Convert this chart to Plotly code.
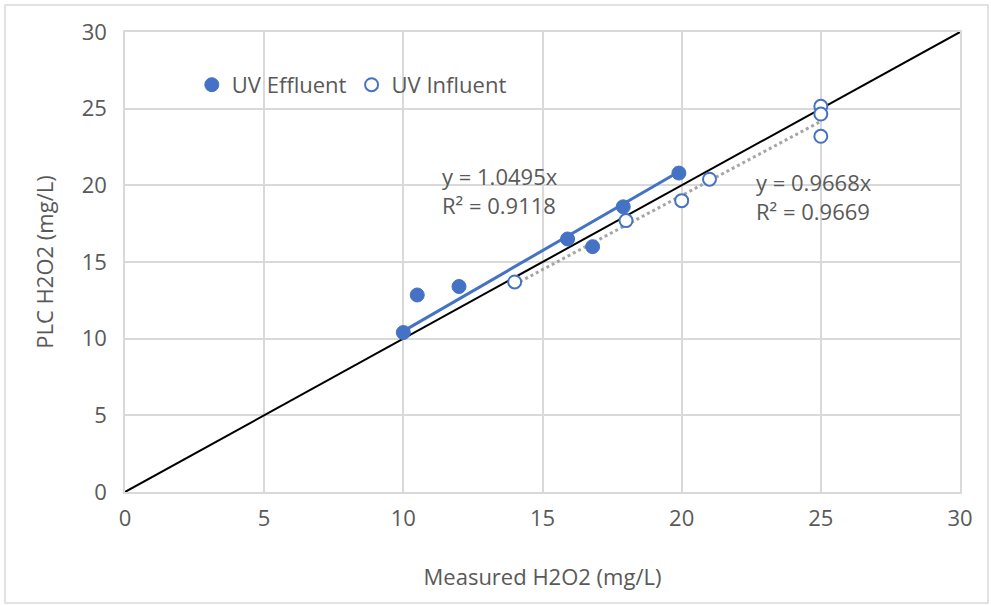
import plotly.graph_objects as go

eff_x = [10, 10.5, 12, 15.9, 16.8, 17.9, 19.9]
eff_y = [10.4, 12.85, 13.4, 16.5, 16.0, 18.6, 20.8]
inf_x = [14, 18, 20, 21, 25, 25, 25]
inf_y = [13.7, 17.7, 19.0, 20.4, 25.15, 24.65, 23.2]
eff_slope = 1.0495
inf_slope = 0.9668
eff_label = "y = 1.0495x<br>R² = 0.9118"
inf_label = "y = 0.9668x<br>R² = 0.9669"
ticks = [0, 5, 10, 15, 20, 25, 30]

blue = "#4472C4"
txt = "#595959"
font = "Open Sans"
fs = 22

fig = go.Figure()
fig.add_trace(go.Scatter(x=[0, 30], y=[0, 30], mode="lines",
                         line=dict(color="black", width=2), showlegend=False, hoverinfo="skip"))
ex = [min(eff_x), max(eff_x)]
fig.add_trace(go.Scatter(x=ex, y=[v * eff_slope for v in ex], mode="lines",
                         line=dict(color=blue, width=3), showlegend=False))
ix = [min(inf_x), max(inf_x)]
fig.add_trace(go.Scatter(x=ix, y=[v * inf_slope for v in ix], mode="lines",
                         line=dict(color="#A5A5A5", width=3, dash="dot"), showlegend=False))
fig.add_trace(go.Scatter(x=eff_x, y=eff_y, mode="markers", name="UV Effluent",
                         marker=dict(color=blue, size=14, line=dict(color=blue, width=1))))
fig.add_trace(go.Scatter(x=inf_x, y=inf_y, mode="markers", name="UV Influent",
                         marker=dict(color="white", size=13, line=dict(color=blue, width=2))))

fig.add_annotation(x=11.3, y=21.7, text=eff_label, showarrow=False, xanchor="left", yanchor="top",
                   align="left", font=dict(size=fs, color=txt, family=font))
fig.add_annotation(x=22.6, y=21.35, text=inf_label, showarrow=False, xanchor="left", yanchor="top",
                   align="left", font=dict(size=fs, color=txt, family=font))

fig.add_shape(type="rect", xref="paper", yref="paper", x0=-0.1437, x1=1.0335, y0=-0.2413, y1=1.0587,
              line=dict(color="#D9D9D9", width=1.5), fillcolor="rgba(0,0,0,0)", layer="below")

axis_common = dict(range=[0, 30], tickvals=ticks, showgrid=True, gridcolor="#D9D9D9", gridwidth=1.5,
                   zeroline=False, showline=True, linecolor="#D9D9D9", linewidth=1.5, mirror=True,
                   tickfont=dict(size=fs, color=txt, family=font), ticks="")
fig.update_xaxes(**axis_common, ticklabelstandoff=6,
                 title=dict(text="Measured H2O2 (mg/L)", font=dict(size=fs, color=txt, family=font), standoff=38))
fig.update_yaxes(**axis_common, ticklabelstandoff=12,
                 title=dict(text="PLC H2O2 (mg/L)", font=dict(size=fs, color=txt, family=font), standoff=22))

fig.update_layout(width=991, height=605, margin=dict(l=125, r=31, t=32, b=113),
                  paper_bgcolor="white", plot_bgcolor="white",
                  legend=dict(orientation="h", x=0.08, y=0.885, xanchor="left", yanchor="middle",
                              bgcolor="rgba(255,255,255,0)", font=dict(size=fs, color=txt, family=font),
                              itemwidth=30),
                  font=dict(family=font))
fig.write_html("out.html")
